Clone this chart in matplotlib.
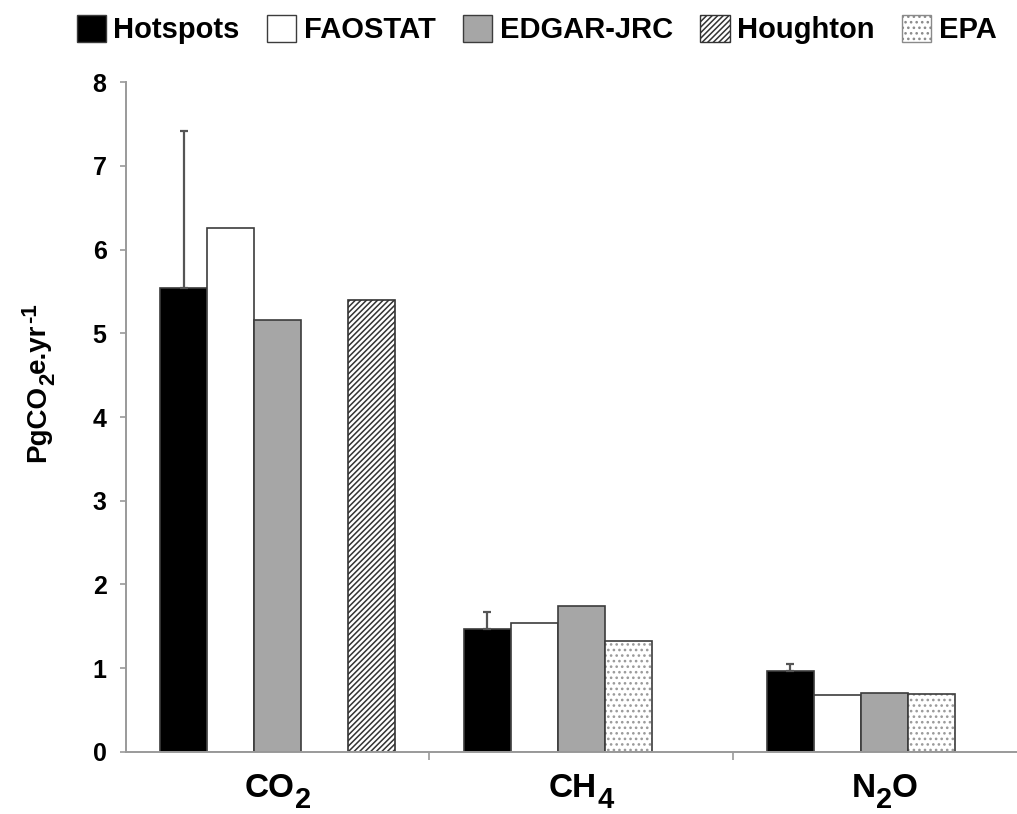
import matplotlib

matplotlib.use("Agg")
import matplotlib.pyplot as plt  # noqa: E402
import numpy as np  # noqa: E402
from matplotlib.patches import Patch  # noqa: E402

# Emission estimates per gas (PgCO2e per year)
gases = [[("CO", 0), ("2", -1)], [("CH", 0), ("4", -1)], [("N", 0), ("2", -1), ("O", 0)]]
hotspots = [5.54, 1.47, 0.97]
hotspots_err = [1.88, 0.20, 0.08]
faostat = [6.26, 1.54, 0.68]
edgar = [5.16, 1.74, 0.70]
epa = [np.nan, 1.33, 0.69]
houghton = [5.40, np.nan, np.nan]
ylabel = [("PgCO", 0), ("2", -1), ("e.yr", 0), ("-1", 1)]

plt.rcParams["font.family"] = ["Liberation Sans", "DejaVu Sans"]
plt.rcParams["font.weight"] = "bold"
plt.rcParams["hatch.linewidth"] = 1.1

edge = "#3c3c3c"
axis_grey = "#9a9a9a"

fig = plt.figure(figsize=(10.17, 8.14), dpi=100)
ax = fig.add_axes([0.1239, 0.0762, 0.895, 0.823])
renderer = fig.canvas.get_renderer()


def text_width(s, size):
    t = fig.text(0, 0, s, fontsize=size, fontweight="bold")
    w = t.get_window_extent(renderer).width
    t.remove()
    return w


def chem_label(pieces, xy, xycoords, size, sub_size, shift, base=0, rotate=False):
    """Write a formula piece by piece so sub/superscripts stay large."""
    sizes = [size if lvl == 0 else sub_size for _, lvl in pieces]
    widths = [text_width(s, fs) for (s, _), fs in zip(pieces, sizes)]
    pos = -sum(widths) / 2 if not rotate else 0
    for (s, lvl), fs, w in zip(pieces, sizes, widths):
        off = base + lvl * shift
        xytext = (-off, pos) if rotate else (pos, off)
        ax.annotate(s, xy=xy, xycoords=xycoords, xytext=xytext,
                    textcoords="offset pixels", ha="left", va="baseline",
                    fontsize=fs, fontweight="bold", rotation=90 if rotate else 0,
                    rotation_mode="anchor", annotation_clip=False)
        pos += w


x = np.arange(len(gases)) + 0.5
w = 0.155

# Order of slots inside each group: Hotspots, FAOSTAT, EDGAR, EPA, Houghton
ax.bar(x - 2 * w, hotspots, w, color="black", edgecolor=edge, linewidth=1.2)
ax.errorbar(x - 2 * w, hotspots, yerr=[np.zeros(3), hotspots_err], fmt="none",
            ecolor="#555555", elinewidth=1.6, capsize=3, capthick=1.6)
ax.bar(x - w, faostat, w, color="white", edgecolor=edge, linewidth=1.2)
ax.bar(x, edgar, w, color="#a6a6a6", edgecolor=edge, linewidth=1.2)
# EPA: dotted fill, drawn with a light hatch then an outline on top
ax.bar(x + w, epa, w, color="white", edgecolor="#9a9a9a", hatch="...", linewidth=0)
ax.bar(x + w, epa, w, color="none", edgecolor=edge, linewidth=1.2)
ax.bar(x + 2 * w, houghton, w, color="white", edgecolor="#333333", hatch="//////",
       linewidth=1.2)

ax.set_xlim(0, 3)
ax.set_ylim(0, 8)
ax.set_yticks(range(0, 9))
ax.set_xticks(x)
ax.set_xticks([1, 2], minor=True)
ax.tick_params(axis="x", which="major", length=0, labelbottom=False)
ax.tick_params(axis="x", which="minor", length=6, width=1.2, color=axis_grey,
               direction="out")
ax.tick_params(axis="y", length=4, width=1.2, color=axis_grey, direction="out",
               labelsize=18, pad=10)
for lbl in ax.get_yticklabels():
    lbl.set_fontweight("bold")

for side in ["top", "right"]:
    ax.spines[side].set_visible(False)
for side in ["left", "bottom"]:
    ax.spines[side].set_color(axis_grey)
    ax.spines[side].set_linewidth(1.4)

# Category labels under each group
for xc, pieces in zip(x, gases):
    chem_label(pieces, (xc, 0), ("data", "axes fraction"), 24, 21, 11, base=-45)

# Rotated y axis label
chem_label(ylabel, (45, 352), "figure pixels", 20, 16, 9, rotate=True)

handles = [
    Patch(facecolor="black", edgecolor=edge, label="Hotspots"),
    Patch(facecolor="white", edgecolor=edge, label="FAOSTAT"),
    Patch(facecolor="#a6a6a6", edgecolor=edge, label="EDGAR-JRC"),
    Patch(facecolor="white", edgecolor="#333333", hatch="//////", label="Houghton"),
    Patch(facecolor="white", edgecolor="#8a8a8a", hatch="...", label="EPA"),
]
fig.legend(handles=handles, loc="upper center", bbox_to_anchor=(0.5275, 1.014),
           ncol=5, frameon=False, handlelength=1.0, handleheight=1.05,
           handletextpad=0.25, columnspacing=0.95, prop={"weight": "bold", "size": 21})

fig.savefig("out.png", dpi=100, facecolor="white")
